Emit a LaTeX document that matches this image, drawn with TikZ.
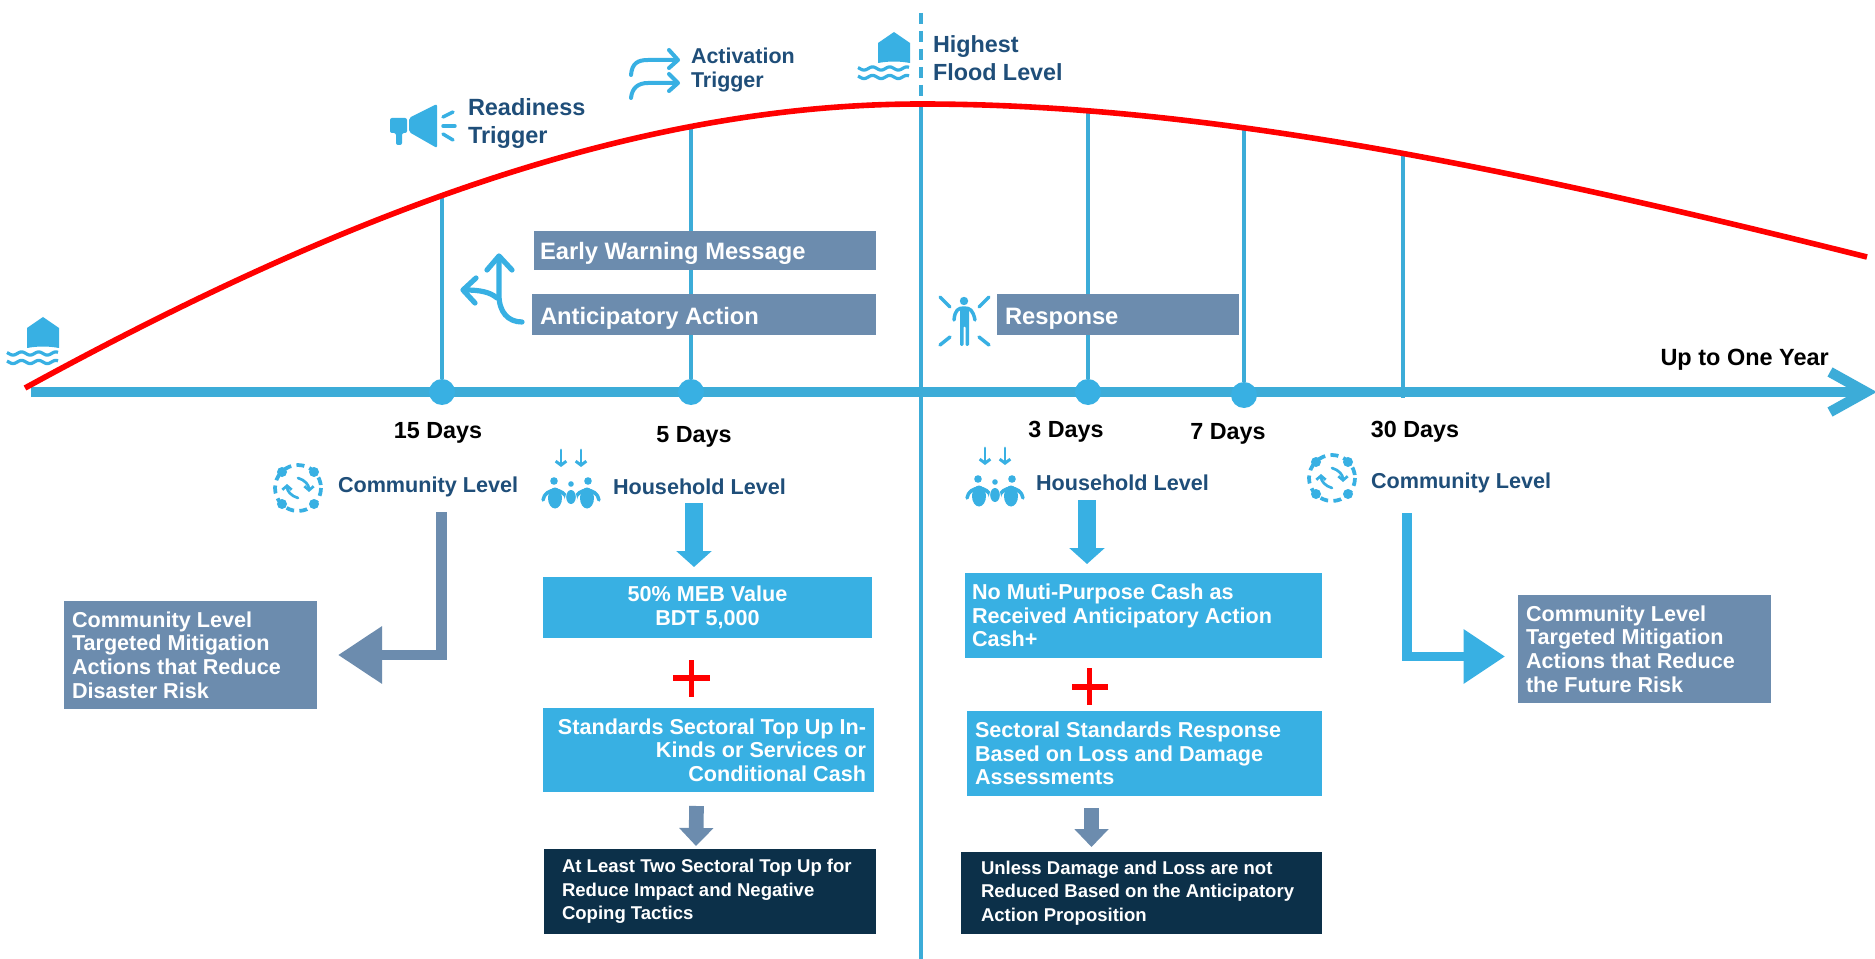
\documentclass[tikz,border=0pt]{standalone}
\usepackage{fontspec}
\setmainfont{Liberation Sans}
\usetikzlibrary{arrows.meta}
\definecolor{lblue}{HTML}{38B0E3}
\definecolor{axisblue}{HTML}{3CACD8}
\definecolor{slate}{HTML}{6C8CAE}
\definecolor{darkbox}{HTML}{0C3049}
\definecolor{navy}{HTML}{1F4E79}
\tikzset{
  x=0.75pt,y=-0.75pt,
  every node/.style={execute at begin node={\spaceskip=.278em\xspaceskip=.278em\relax}},
  boxbase/.style={rectangle,inner sep=0pt,outer sep=0pt,text=white,align=left},
  slatebox/.style={boxbase,fill=slate},
  bluebox/.style={boxbase,fill=lblue},
  darkb/.style={boxbase,fill=darkbox},
  tbig/.style={font=\fontsize{17.8pt}{20pt}\selectfont\bfseries},
  tmid/.style={font=\fontsize{16.2pt}{17.7pt}\selectfont\bfseries},
  tsmall/.style={font=\fontsize{13.9pt}{17.6pt}\selectfont\bfseries},
  lab/.style={inner sep=0pt,outer sep=0pt,align=left,anchor=west},
  navylab/.style={lab,text=navy,font=\fontsize{16.2pt}{18pt}\selectfont\bfseries},
  daylab/.style={inner sep=0pt,text=black,font=\fontsize{17.5pt}{20pt}\selectfont\bfseries},
  tick/.style={draw=axisblue,line width=2.4pt},
  dotn/.style={circle,fill=lblue,minimum size=19.5pt,inner sep=0pt,outer sep=0pt},
  icon/.style={draw=lblue,line cap=round,line join=round,line width=2.6pt},
  bigdown/.style={line width=13pt,-{Triangle[length=12pt,width=26pt]}},
  smalldown/.style={draw=slate,line width=11pt,-{Triangle[length=13.5pt,width=25pt]}},
}
\newcommand\bx[8]{%
  \pgfmathsetmacro\bxcx{(#2+#4)/2}\pgfmathsetmacro\bxcy{(#3+#5)/2}%
  \pgfmathsetmacro\bxw{(#4-#2)*0.75}\pgfmathsetmacro\bxh{(#5-#3)*0.75}%
  \pgfmathsetmacro\bxt{(#4-#2-2*#7)*0.75}%
  \node[#6,minimum width=\bxw pt,minimum height=\bxh pt,text width=\bxt pt] (#1) at (\bxcx,\bxcy) {#8};}
\newcommand\floodicon[2]{%
  \begin{scope}[shift={(#1,#2)}]
    \fill[lblue] (0,0) -- (16,11) -- (16,31) .. controls (5,29) and (-5,29) .. (-16,31) -- (-16,11) -- cycle;
    \draw[icon,line width=2.4pt,line cap=butt] plot[domain=-36:15,samples=40,smooth] (\x,{36.5+1.6*sin(\x*21)});
    \draw[icon,line width=2.4pt,line cap=butt] plot[domain=-36:15,samples=40,smooth] (\x,{45+1.6*sin(\x*21)});
  \end{scope}}
\newcommand\cycleicon[2]{%
  \begin{scope}[shift={(#1,#2)}]
    \draw[draw=lblue,line width=2.8pt,dash pattern=on 6pt off 4pt] (0,0) circle[radius=23];
    \foreach \a/\b in {-16/-16,16/-16,-16/16,16/16} \fill[lblue] (\a,\b) circle[radius=5];
    \draw[icon,line width=2pt,-{Straight Barb[length=3pt,width=7pt]}] (0,-10) .. controls (7,-8) and (11,-3) .. (11,4);
    \draw[icon,line width=2pt,-{Straight Barb[length=3pt,width=7pt]}] (0,10) .. controls (-7,8) and (-11,3) .. (-11,-4);
  \end{scope}}
\newcommand\peopleicon[2]{%
  \begin{scope}[shift={(#1,#2)}]
    \foreach \s in {-1,1} {
      \fill[lblue] (\s*17,-16) circle[radius=3.8];
      \fill[lblue] (\s*16,1) ellipse[x radius=7,y radius=10.5];
      \draw[icon,line width=2.6pt] (\s*28,3) .. controls (\s*26,-10) and (\s*6,-10) .. (\s*4,3);
      \draw[-{Straight Barb[length=3pt,width=8pt]},icon,line width=2.2pt] (\s*10,-47) -- (\s*10,-30);
    }
    \fill[white] (0,2) ellipse[x radius=6,y radius=8];
    \fill[lblue] (0,-13) circle[radius=2.8];
    \fill[lblue] (0,0) ellipse[x radius=4.8,y radius=7];
  \end{scope}}
\begin{document}
\begin{tikzpicture}
\useasboundingbox (0,0) rectangle (1875,959);
\fill[white] (0,0) rectangle (1875,959);

% named anchors
\coordinate (c15) at (442,195);
\coordinate (c5) at (691,127);
\coordinate (ctop) at (921,13);
\coordinate (cpk) at (921,104);
\coordinate (cbot) at (921,959);
\coordinate (c3) at (1088,108);
\coordinate (c7) at (1244,128);
\coordinate (c30) at (1403,153);
\coordinate (e30) at (1403,398);
\coordinate (axs) at (31,392);
\coordinate (axe) at (1868,392);
\coordinate (rs) at (25,388);
\coordinate (re) at (1867,257);

% axis
\draw[draw=axisblue,line width=7.5pt] (axs) -- (axe);
\draw[draw=axisblue,line width=7.8pt,miter limit=10] (1830,372) -- (1866,392) -- (1830,412);

% ticks and dots
\node[dotn] (d15) at (442,392) {};
\node[dotn] (d5) at (691,392) {};
\node[dotn] (d3) at (1088,392) {};
\node[dotn] (d7) at (1244,395) {};
\draw[tick] (c15) -- (d15);
\draw[tick] (c5) -- (d5);
\draw[tick] (c3) -- (d3);
\draw[tick] (c7) -- (d7);
\draw[tick] (c30) -- (e30);
\draw[draw=axisblue,line width=2.6pt,dash pattern=on 8.6pt off 4.9pt] (ctop) -- (cpk);
\draw[draw=axisblue,line width=2.6pt] (cpk) -- (cbot);

% upper boxes
\bx{ew}{534}{231}{876}{270}{slatebox,tbig}{6}{\rule{0pt}{18pt}Early Warning Message}
\bx{aa}{532}{294}{876}{335}{slatebox,tbig}{8}{\rule{0pt}{18pt}Anticipatory Action}
\bx{rsp}{997}{294}{1239}{335}{slatebox,tbig}{8}{\rule{0pt}{18pt}Response}

% red curve
\draw[red,line width=4.2pt] (rs) .. controls (350,210) and (640,104) .. (cpk) .. controls (1200,104) and (1500,165) .. (re);

% top labels
\node[navylab,font=\fontsize{17.6pt}{21pt}\selectfont\bfseries] (rt) at (468,123) {Readiness\\Trigger};
\node[navylab,font=\fontsize{16.1pt}{18pt}\selectfont\bfseries] (at) at (691,70.5) {Activation\\Trigger};
\node[navylab,font=\fontsize{17.5pt}{21pt}\selectfont\bfseries] (hf) at (933,58) {Highest\\Flood Level};
\node[inner sep=0pt,anchor=east,font=\fontsize{17.6pt}{20pt}\selectfont\bfseries] (uy) at (1829,360) {Up to One Year};

% day labels
\node[daylab] (l15) at (438,433) {15 Days};
\node[daylab] (l5) at (694,437) {5 Days};
\node[daylab] (l3) at (1066,432) {3 Days};
\node[daylab] (l7) at (1228,434) {7 Days};
\node[daylab] (l30) at (1415,432) {30 Days};

% level labels
\node[navylab] (cl1) at (338,487) {Community Level};
\node[navylab] (hl1) at (613,487) {Household Level};
\node[navylab] (hl2) at (1036,483) {Household Level};
\node[navylab] (cl2) at (1371,483) {Community Level};

% icons
\floodicon{43}{317}
\floodicon{894}{32}
\cycleicon{298}{488}
\cycleicon{1332}{478}
\peopleicon{571}{497}
\peopleicon{995}{495}

% megaphone
\fill[lblue,rounded corners=1.5pt] (390,118) -- (407,118) -- (407,133) -- (402,133) -- (402,145) -- (396,145) -- (396,133) -- (390,133) -- cycle;
\fill[lblue,rounded corners=1.5pt] (409,118) -- (437,104) -- (437,148) -- (409,132) -- cycle;
\draw[icon] (443,117) -- (453,112);
\draw[icon] (443,126) -- (455,126);
\draw[icon] (443,134) -- (453,140);

% activation icon
\draw[icon,line width=3pt] (631,75) .. controls (632,63) and (638,60) .. (648,60) -- (677,60);
\draw[icon,line width=3pt] (669,50) -- (678,60) -- (669,68);
\draw[icon,line width=3pt] (631,98) .. controls (632,88) and (638,83) .. (648,83) -- (677,83);
\draw[icon,line width=3pt] (669,74) -- (678,83) -- (669,91);

% split arrow
\draw[icon,line width=3.9pt] (499,258) -- (499,295) .. controls (499,312) and (508,322) .. (522,322);
\draw[icon,line width=3.9pt] (487,270) -- (499,256) -- (512,270);
\draw[icon,line width=3.9pt] (497,298) .. controls (490,292) and (480,290) .. (465,290);
\draw[icon,line width=3.9pt] (476,278) -- (463,290) -- (475,303);

% person
\fill[lblue] (964,301) circle[radius=4.2];
\draw[icon,line width=2.6pt] (954,320) .. controls (955,310) and (958,308) .. (964,308) .. controls (970,308) and (973,310) .. (975,320);
\fill[lblue,rounded corners=1pt] (960,308) -- (969,308) -- (969,346) -- (965.5,346) -- (965.5,326) -- (963.5,326) -- (963.5,346) -- (960,346) -- cycle;
\draw[icon] (940,297) -- (950,307);
\draw[icon] (989,297) -- (979,307);
\draw[icon] (940,345) -- (950,337);
\draw[icon] (989,345) -- (979,337);

% lower boxes
\bx{cm1}{64}{601}{317}{709}{slatebox,tmid}{8}{Community Level\\Targeted Mitigation\\Actions that Reduce\\Disaster Risk}
\bx{cm2}{1518}{595}{1771}{703}{slatebox,tmid}{8}{Community Level\\Targeted Mitigation\\Actions that Reduce\\the Future Risk}
\bx{meb}{543}{577}{872}{638}{bluebox,tmid,align=center}{8}{50\% MEB Value\\BDT 5,000}
\bx{std}{543}{708}{874}{792}{bluebox,tmid,align=right}{8}{Standards Sectoral Top Up In-\\Kinds or Services or\\Conditional Cash}
\bx{atl}{544}{849}{876}{934}{darkb,tsmall}{18}{At Least Two Sectoral Top Up for\\Reduce Impact and Negative\\Coping Tactics}
\bx{nom}{965}{573}{1322}{658}{bluebox,tmid}{7}{No Muti-Purpose Cash as\\Received Anticipatory Action\\Cash+}
\bx{sec}{967}{711}{1322}{796}{bluebox,tmid}{8}{Sectoral Standards Response\\Based on Loss and Damage\\Assessments}
\bx{unl}{961}{852}{1322}{934}{darkb,tsmall}{20}{Unless Damage and Loss are not\\Reduced Based on the Anticipatory\\Action Proposition}

% block arrows
\coordinate (hh1) at (694,503); \coordinate (hh1t) at (694,567);
\coordinate (hh2) at (1087,500); \coordinate (hh2t) at (1087,564);
\coordinate (sa1) at (696.5,806); \coordinate (sa1t) at (696,846);
\coordinate (sa2) at (1091.5,808); \coordinate (sa2t) at (1091.5,847);
\coordinate (la) at (441.5,512); \coordinate (lat) at (338,655);
\coordinate (ra) at (1407,513); \coordinate (rat) at (1505,656.5);
\draw[draw=lblue,bigdown] (hh1) -- (hh1t);
\draw[draw=lblue,bigdown] (hh2) -- (hh2t);
\draw[smalldown] (sa1) -- (sa1t);
\draw[smalldown] (sa2) -- (sa2t);
\draw[draw=slate,line width=8pt,-{Triangle[length=33pt,width=41pt]}] (la) |- (lat);
\draw[draw=lblue,line width=7pt,-{Triangle[length=31pt,width=39pt]}] (ra) |- (rat);

% plus signs
\fill[red] (673,675) rectangle (710,681);
\fill[red] (689,660) rectangle (694,697);
\fill[red] (1072,684) rectangle (1108,690);
\fill[red] (1087,668) rectangle (1092,705);
\end{tikzpicture}
\end{document}
